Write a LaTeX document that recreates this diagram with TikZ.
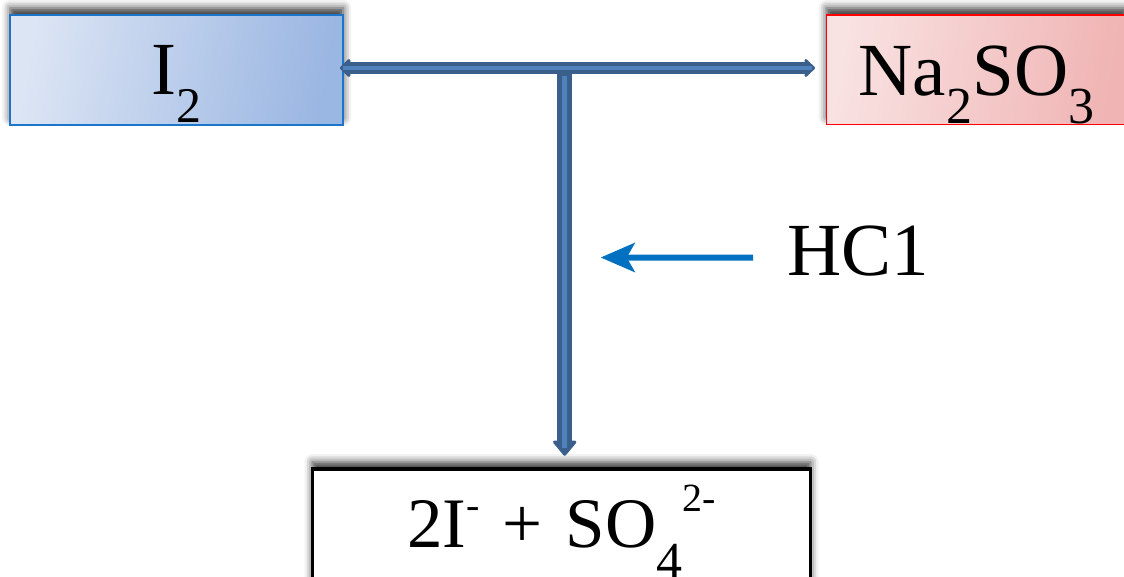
\documentclass[tikz,border=0pt]{standalone}
\usepackage{fontspec}
\setmainfont{Liberation Serif}
\usetikzlibrary{arrows.meta,shadows.blur}

\definecolor{pipedark}{HTML}{3A5F8B}
\definecolor{pipelight}{HTML}{4F81BD}
\definecolor{reagblue}{HTML}{0070C0}
\definecolor{iodborder}{HTML}{1C75C8}
\definecolor{iodlight}{HTML}{DCE5F4}
\definecolor{ioddark}{HTML}{9AB6E2}
\definecolor{sulfborder}{HTML}{FF0000}
\definecolor{sulflight}{HTML}{F9E2E2}
\definecolor{sulfdark}{HTML}{F0B4B4}

% chemical sub- and superscripts: shift, size, text
\newcommand{\chemlow}[3]{\raisebox{-#1}{\fontsize{#2}{#2}\selectfont #3}}
\newcommand{\chemup}[3]{\raisebox{#1}{\fontsize{#2}{#2}\selectfont #3}}

\begin{document}
\begin{tikzpicture}[x=1pt,y=1pt,
  box/.style={rectangle, inner sep=0pt, text depth=0pt,
    blur shadow={shadow xshift=0pt, shadow yshift=7pt,
      shadow blur radius=8pt, shadow opacity=80}},
  bigfont/.style={font=\fontsize{75}{75}\selectfont},
  pipeouter/.style={line width=12.6pt, draw=pipedark},
  pipeinner/.style={line width=3.6pt, draw=pipelight},
  stemouter/.style={line width=15.3pt, draw=pipedark},
  steminner/.style={line width=5.3pt, draw=pipelight},
  reagent/.style={line width=6pt, draw=reagblue,
    -{Stealth[length=34pt,width=29pt,inset=8pt]}}
]
\useasboundingbox (0,0) rectangle (1124,-577);

% reactant and product boxes
\node[box, bigfont, draw=iodborder, line width=2pt,
      left color=iodlight, right color=ioddark, shading angle=80,
      minimum width=333pt, minimum height=110pt, text height=50pt]
  (i2) at (176.7,-70) {I\chemlow{28pt}{50}{2}};

\node[box, bigfont, draw=sulfborder, line width=1.5pt,
      left color=sulflight, right color=sulfdark, shading angle=80,
      minimum width=300pt, minimum height=109.5pt, text height=51pt]
  (na) at (976.5,-69.75) {Na\chemlow{28pt}{52}{2}SO\chemlow{28pt}{52}{3}};

\node[box, draw=black, line width=3.5pt, fill=white,
      font=\fontsize{71}{71}\selectfont,
      minimum width=498pt, minimum height=131pt, text height=26pt]
  (prod) at (561.5,-534.5)
  {2I\chemup{29pt}{40}{-}\hspace{23pt}+\hspace{23pt}SO\chemlow{31pt}{52}{4}\chemup{36pt}{40}{2-}};

% reagent label
\node[bigfont, inner sep=0pt, anchor=base west] (hcl) at (787,-276) {HC1};

% junction of the connectors
\coordinate (junction) at (564.7,-68);
\coordinate (hclto) at (600.7,-257.5);

% stem down to the product
\draw[stemouter, shorten >=11.5pt,
      -{Triangle[length=16pt,width=26pt,line width=3pt,round]}]
  (junction) -- (junction |- prod.north);
\draw[steminner, shorten >=19pt] ([yshift=-8pt]junction) -- (junction |- prod.north);

% double arrow between the reactants
\draw[pipeouter, shorten <=-4.3pt, shorten >=10.8pt,
      {Triangle[length=11pt,width=21pt,line width=3pt,round]}-{Triangle[length=11pt,width=21pt,line width=3pt,round]}]
  (i2.east |- junction) -- (na.west |- junction);
\draw[pipeinner, shorten <=-1pt, shorten >=14pt]
  (i2.east |- junction) -- (na.west |- junction);

% reagent arrow
\draw[reagent] ([xshift=-34pt,yshift=-6pt]hcl.west) -- (hclto);
\end{tikzpicture}
\end{document}
